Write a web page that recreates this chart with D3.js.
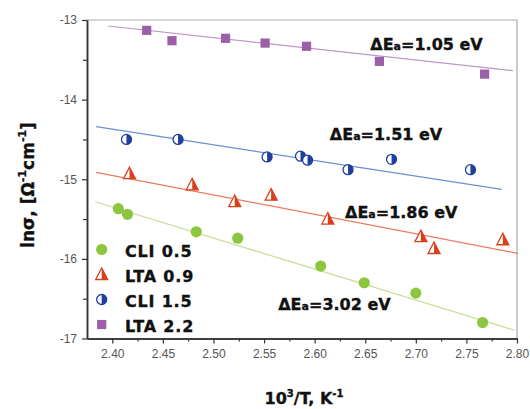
<!DOCTYPE html>
<html>
<head>
<meta charset="utf-8">
<script src="https://cdn.jsdelivr.net/npm/d3@7"></script>
<style>
  html, body { margin: 0; padding: 0; background: #fff; }
  svg { display: block; }
  .tick text { font-family: "Liberation Sans", Arial, sans-serif; font-size: 12px; fill: #555; }
  .bold { font-family: "DejaVu Sans", sans-serif; font-weight: bold; fill: #111; stroke: #111; stroke-width: 0.35px; }
</style>
</head>
<body>
<svg id="chart" width="530" height="409"></svg>
<script>
// Axis ticks
const xTicks = [2.40, 2.45, 2.50, 2.55, 2.60, 2.65, 2.70, 2.75, 2.80];
const xMinorTicks = [2.425, 2.475, 2.525, 2.575, 2.625, 2.675, 2.725, 2.775];
const yTicks = [-17, -16, -15, -14, -13];
const yMinorTicks = [-16.5, -15.5, -14.5, -13.5];

// CLI 0.5
const cli05X = [2.406, 2.415, 2.483, 2.524, 2.606, 2.649, 2.700, 2.766];
const cli05Y = [-15.37, -15.44, -15.66, -15.74, -16.09, -16.30, -16.43, -16.80];
const cli05Fit = [[2.383, -15.283], [2.797, -16.894]];

// LTA 0.9
const lta09X = [2.417, 2.479, 2.521, 2.557, 2.613, 2.705, 2.718, 2.786];
const lta09Y = [-14.93, -15.07, -15.28, -15.20, -15.50, -15.72, -15.87, -15.76];
const lta09Fit = [[2.384, -14.913], [2.801, -15.931]];

// CLI 1.5
const cli15X = [2.414, 2.465, 2.553, 2.586, 2.593, 2.633, 2.676, 2.754];
const cli15Y = [-14.50, -14.50, -14.72, -14.71, -14.76, -14.88, -14.75, -14.88];
const cli15Fit = [[2.384, -14.340], [2.785, -15.126]];

// LTA 2.2
const lta22X = [2.434, 2.459, 2.512, 2.551, 2.592, 2.664, 2.768];
const lta22Y = [-13.13, -13.26, -13.23, -13.29, -13.33, -13.52, -13.68];
const lta22Fit = [[2.396, -13.075], [2.796, -13.637]];

// Activation energies and where their labels sit (data units)
const eaLabels = ["1.05", "1.51", "1.86", "3.02"];
const eaX = [2.655, 2.615, 2.630, 2.564];
const eaY = [-13.38, -14.51, -15.49, -16.64];

const legendNames = ["CLI 0.5", "LTA 0.9", "CLI 1.5", "LTA 2.2"];

const svg = d3.select("#chart");
const x = d3.scaleLinear().domain([2.375, 2.80]).range([87, 517]);
const y = d3.scaleLinear().domain([-17, -13]).range([338.5, 20]);

// frame: light top/right border
svg.append("path")
  .attr("d", `M${x.range()[0]},${y(-13)}H${x(2.80)}V${y(-17)}`)
  .attr("fill", "none").attr("stroke", "#aaa").attr("stroke-width", 1.2);

// Axes
svg.append("g").attr("transform", `translate(0,${y(-17)})`)
  .call(d3.axisBottom(x).tickValues(xTicks).tickFormat(d3.format(".2f")).tickSize(5).tickSizeOuter(0).tickPadding(6));
svg.append("g").attr("transform", `translate(0,${y(-17)})`)
  .call(d3.axisBottom(x).tickValues(xMinorTicks).tickFormat("").tickSize(3).tickSizeOuter(0));
const yAxis = svg.append("g").attr("transform", `translate(${x(2.375)},0)`)
  .call(d3.axisLeft(y).tickValues(yTicks).tickFormat(d3.format("d")).tickSize(5).tickSizeOuter(0).tickPadding(5));
svg.append("g").attr("transform", `translate(${x(2.375)},0)`)
  .call(d3.axisLeft(y).tickValues(yMinorTicks).tickFormat("").tickSize(4).tickSizeOuter(0));
svg.selectAll(".domain").attr("stroke", "#333").attr("stroke-width", 1.5);
svg.selectAll(".tick line").attr("stroke", "#333").attr("stroke-width", 1.2);
yAxis.selectAll("text").text(d => "-" + Math.abs(d));

// Series definitions
const series = [
  { xs: cli05X, ys: cli05Y, fit: cli05Fit, color: "#8cc63e", line: "#c6dc93", shape: "circle" },
  { xs: lta09X, ys: lta09Y, fit: lta09Fit, color: "#d8401c", line: "#ea7a62", shape: "triangle" },
  { xs: cli15X, ys: cli15Y, fit: cli15Fit, color: "#1f3e9e", line: "#6d8fd2", shape: "half" },
  { xs: lta22X, ys: lta22Y, fit: lta22Fit, color: "#9d5fa7", line: "#bf95c6", shape: "square" }
];

// Fit lines
const lineGen = d3.line().x(d => x(d[0])).y(d => y(d[1]));
series.forEach(s => {
  svg.append("path").attr("d", lineGen(s.fit))
    .attr("fill", "none").attr("stroke", s.line).attr("stroke-width", 1.2);
});

// Marker drawing
function drawMarker(g, shape, color) {
  if (shape === "circle") {
    g.append("circle").attr("r", 5.6).attr("fill", color);
  } else if (shape === "square") {
    g.append("rect").attr("x", -4.6).attr("y", -4.6).attr("width", 9.2).attr("height", 9.2).attr("fill", color);
  } else if (shape === "triangle") {
    g.append("path").attr("d", "M0,-6.5L6,5L-6,5Z").attr("fill", "#fff").attr("stroke", color).attr("stroke-width", 1.3);
    g.append("path").attr("d", "M0,-6.5L6,5L0,5Z").attr("fill", color);
  } else if (shape === "half") {
    const r = 5;
    g.append("circle").attr("r", r).attr("fill", "#fff").attr("stroke", color).attr("stroke-width", 1.3);
    g.append("path").attr("d", `M0,${-r}A${r},${r} 0 0 1 0,${r}Z`).attr("fill", color);
  }
}

series.forEach(s => {
  s.xs.forEach((xv, i) => {
    const g = svg.append("g").attr("transform", `translate(${x(xv)},${y(s.ys[i])})`);
    drawMarker(g, s.shape, s.color);
  });
});

// Activation energy labels
eaLabels.forEach((v, i) => {
  const t = svg.append("text").attr("class", "bold").attr("font-size", 16)
    .attr("x", x(eaX[i])).attr("y", y(eaY[i]));
  t.append("tspan").text("ΔE");
  t.append("tspan").attr("font-size", 11).text("a");
  t.append("tspan").text("=" + v + " eV");
});

// Legend
legendNames.forEach((name, i) => {
  const cy = 249.5 + i * 25;
  const g = svg.append("g").attr("transform", `translate(101.7,${cy})`);
  drawMarker(g, series[i].shape, series[i].color);
  svg.append("text").attr("class", "bold").attr("font-size", 16)
    .attr("letter-spacing", 0.8)
    .attr("x", 125).attr("y", cy + 7).text(name);
});

// Axis titles
const xt = svg.append("text").attr("class", "bold").attr("font-size", 16)
  .attr("text-anchor", "middle").attr("x", 304).attr("y", 404);
xt.append("tspan").text("10");
xt.append("tspan").attr("font-size", 10).attr("dy", -7).text("3");
xt.append("tspan").attr("dy", 7).text("/T, K");
xt.append("tspan").attr("font-size", 10).attr("dy", -7).text("-1");

const yt = svg.append("text").attr("class", "bold").attr("font-size", 17)
  .attr("text-anchor", "middle")
  .attr("transform", "translate(34,185) rotate(-90)");
yt.append("tspan").text("lnσ, [Ω");
yt.append("tspan").attr("font-size", 11).attr("dy", -8).text("-1");
yt.append("tspan").attr("dy", 8).text("cm");
yt.append("tspan").attr("font-size", 11).attr("dy", -8).text("-1");
yt.append("tspan").attr("dy", 8).text("]");
</script>
</body>
</html>
